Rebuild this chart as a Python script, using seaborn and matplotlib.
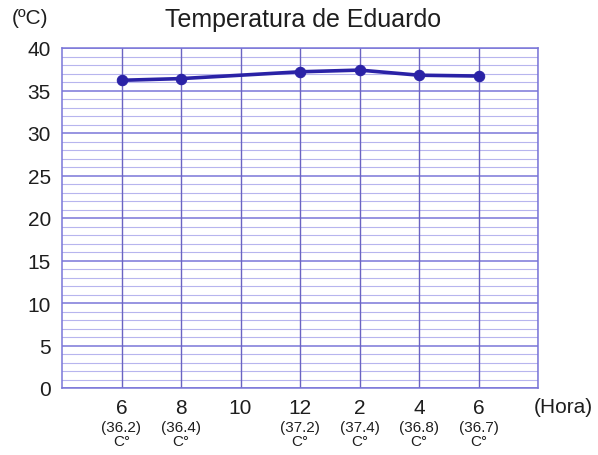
import matplotlib
matplotlib.use("Agg")
import matplotlib.pyplot as plt
import matplotlib.transforms as mtransforms
import seaborn as sns
import numpy as np
import pandas as pd

hours = ["6", "8", "10", "12", "2", "4", "6"]
temps = [36.2, 36.4, None, 37.2, 37.4, 36.8, 36.7]
temp_labels = ["(36.2)", "(36.4)", "", "(37.2)", "(37.4)", "(36.8)", "(36.7)"]
unit_labels = ["C°", "C°", "", "C°", "C°", "C°", "C°"]
y_ticks = [0, 5, 10, 15, 20, 25, 30, 35, 40]

sns.set_theme(style="white")
plt.rcParams['font.family'] = ['Liberation Sans', 'DejaVu Sans']

df = pd.DataFrame({"pos": np.arange(1, len(hours) + 1), "temp": temps}).dropna()

fig = plt.figure(figsize=(5.98, 4.56), dpi=100)
ax = fig.add_axes([62/598, 1-389/456, 476/598, 340/456])

line_col = "#2a22a6"
sns.lineplot(data=df, x="pos", y="temp", ax=ax, color=line_col, linewidth=2.6,
             marker="o", markersize=7.5, markeredgecolor=line_col, zorder=5)

ax.set_xlim(0, len(hours) + 1)
ax.set_ylim(0, 40)

# grid
for v in np.arange(0, 41, 1):
    if v % 5 == 0:
        ax.axhline(v, color="#7a76d8", lw=1.1, zorder=1)
    else:
        ax.axhline(v, color="#b7b5ee", lw=0.8, zorder=1)
for p in range(1, len(hours) + 2):
    ax.axvline(p, color="#6b64c2", lw=1.0, zorder=2)

for s in ax.spines.values():
    s.set_color("#7a76d8")
    s.set_linewidth(1.1)

txt = "#1e1e1e"
ax.set_yticks(y_ticks)
ax.set_yticklabels([str(t) for t in y_ticks], fontsize=15, color=txt)
ax.set_xticks(np.arange(1, len(hours) + 1))
ax.set_xticklabels(hours, fontsize=15, color=txt)
ax.tick_params(axis="y", length=3, color="#7a76d8", pad=5)
ax.tick_params(axis="x", length=0, pad=7)
ax.set_xlabel("")
ax.set_ylabel("")

trans = mtransforms.blended_transform_factory(ax.transData, ax.transAxes)
for i, (tl, ul) in enumerate(zip(temp_labels, unit_labels)):
    if tl:
        ax.text(i + 1, -0.115, tl, transform=trans, ha="center", va="center",
                fontsize=11, color=txt)
        ax.text(i + 1, -0.157, ul, transform=trans, ha="center", va="center",
                fontsize=11, color=txt)

fig.text(563/598, 1-408/456, "(Hora)", ha="center", va="center", fontsize=15, color=txt)
fig.text(30/598, 1-19/456, "(ºC)", ha="center", va="center", fontsize=15, color=txt)
fig.text(303/598, 1-20/456, "Temperatura de Eduardo", ha="center", va="center",
         fontsize=18, color=txt)

fig.savefig("out.png", dpi=100, facecolor="white")
